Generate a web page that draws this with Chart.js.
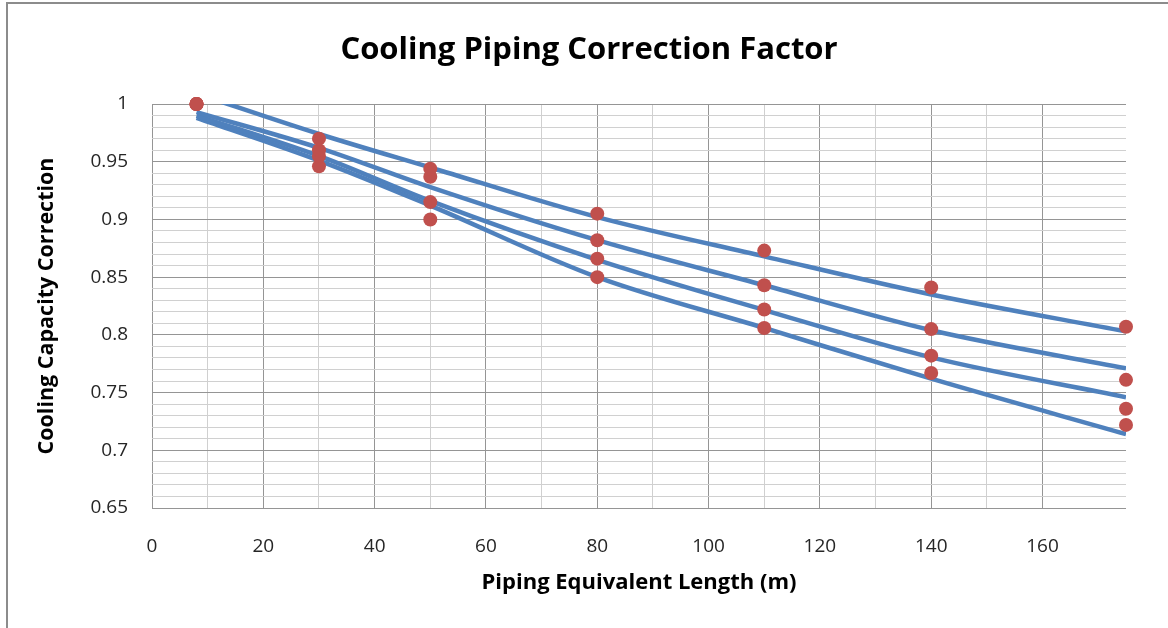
<!DOCTYPE html>
<html>
<head>
<meta charset="utf-8">
<script src="https://cdn.jsdelivr.net/npm/chart.js@4"></script>
<style>
  html, body { margin: 0; padding: 0; background: #ffffff; }
  #frame { position: absolute; left: 6px; top: 2px; width: 1300px; height: 800px;
           border-left: 2px solid #8c8c8c; border-top: 2px solid #8c8c8c; }
  #wrap { position: absolute; left: 0; top: 0; width: 1168px; height: 628px; }
</style>
</head>
<body>
<div id="frame"></div>
<div id="wrap"><canvas id="c" width="1168" height="628"></canvas></div>
<script>
// ---- data ----
const lengths = [8, 30, 50, 80, 110, 140, 175];          // piping equivalent length (m)

// measured points (red markers)
const points1 = [1.000, 0.970, 0.944, 0.905, 0.873, 0.841, 0.807];
const points2 = [1.000, 0.960, 0.937, 0.882, 0.843, 0.805, 0.761];
const points3 = [1.000, 0.955, 0.915, 0.866, 0.822, 0.782, 0.736];
const points4 = [1.000, 0.946, 0.900, 0.850, 0.806, 0.767, 0.722];

// trend lines (blue), read at the same lengths
const trend1 = [1.009, 0.974, 0.945, 0.902, 0.868, 0.835, 0.803];
const trend2 = [0.993, 0.962, 0.928, 0.882, 0.843, 0.804, 0.771];
const trend3 = [0.990, 0.955, 0.916, 0.865, 0.8215, 0.7805, 0.746];
const trend4 = [0.988, 0.951, 0.912, 0.850, 0.806, 0.762, 0.714];

const xTickLabels = [0, 20, 40, 60, 80, 100, 120, 140, 160];
const yTickLabels = [0.65, 0.7, 0.75, 0.8, 0.85, 0.9, 0.95, 1];

const chartTitle = 'Cooling Piping Correction Factor';
const xTitle = 'Piping Equivalent Length (m)';
const yTitle = 'Cooling Capacity Correction';

// ---- build ----
const FONT = '"Open Sans", "DejaVu Sans", sans-serif';
const toXY = arr => lengths.map((x, i) => ({ x: x, y: arr[i] }));

const pointSets = [points1, points2, points3, points4].map(a => ({
  data: toXY(a),
  showLine: false,
  pointRadius: 7,
  pointHoverRadius: 7,
  pointBackgroundColor: '#C0504D',
  pointBorderColor: '#C0504D',
  pointBorderWidth: 0,
  clip: false,
  order: 1
}));
const lineSets = [trend1, trend2, trend3, trend4].map(a => ({
  data: toXY(a),
  showLine: true,
  borderColor: '#4F81BD',
  borderWidth: 4.5,
  pointRadius: 0,
  cubicInterpolationMode: 'monotone',
  clip: 0,
  order: 2
}));

const isMajorY = v => yTickLabels.some(t => Math.abs(t - v) < 1e-6);
const isMajorX = v => xTickLabels.some(t => Math.abs(t - v) < 1e-6);

new Chart(document.getElementById('c'), {
  type: 'scatter',
  data: { datasets: pointSets.concat(lineSets) },
  options: {
    responsive: false,
    animation: false,
    events: [],
    layout: { padding: { left: 52, right: 42, top: 0, bottom: 0 } },
    plugins: {
      legend: { display: false },
      tooltip: { enabled: false },
      title: {
        display: true,
        text: chartTitle,
        color: '#000000',
        font: { family: FONT, size: 31, weight: 'bold', lineHeight: 1.2 },
        padding: { top: 31.4, bottom: 35.4 }
      }
    },
    scales: {
      x: {
        type: 'linear',
        min: 0, max: 175,
        afterFit: s => { s.height = 120; },
        border: { display: false },
        grid: {
          drawTicks: false,
          color: ctx => (ctx.tick && ctx.tick.value === 175) ? 'rgba(0,0,0,0)' : (isMajorX(ctx.tick.value) ? '#959595' : '#d0d0d0'),
          lineWidth: 1
        },
        ticks: {
          stepSize: 10,
          autoSkip: false,
          maxTicksLimit: 100,
          maxRotation: 0,
          padding: 27,
          color: '#262626',
          font: { family: FONT, size: 19 },
          callback: v => isMajorX(v) ? String(v) : ''
        },
        title: {
          display: true,
          text: xTitle,
          color: '#000000',
          font: { family: FONT, size: 22, weight: 'bold', lineHeight: 1.2 },
          padding: { top: 0, bottom: 31.8 }
        }
      },
      y: {
        type: 'linear',
        min: 0.65, max: 1,
        afterFit: s => { s.width = 100; },
        border: { display: false },
        grid: {
          drawTicks: false,
          color: ctx => isMajorY(ctx.tick.value) ? '#959595' : '#d0d0d0',
          lineWidth: 1
        },
        ticks: {
          stepSize: 0.01,
          autoSkip: false,
          maxTicksLimit: 100,
          padding: 24,
          color: '#262626',
          font: { family: FONT, size: 19 },
          callback: v => isMajorY(v) ? String(Number(v.toFixed(2))) : ''
        },
        title: {
          display: true,
          text: yTitle,
          color: '#000000',
          font: { family: FONT, size: 21.5, weight: 'bold', lineHeight: 1.2 },
          padding: { top: -17.9, bottom: 0 }
        }
      }
    }
  }
});
</script>
</body>
</html>
